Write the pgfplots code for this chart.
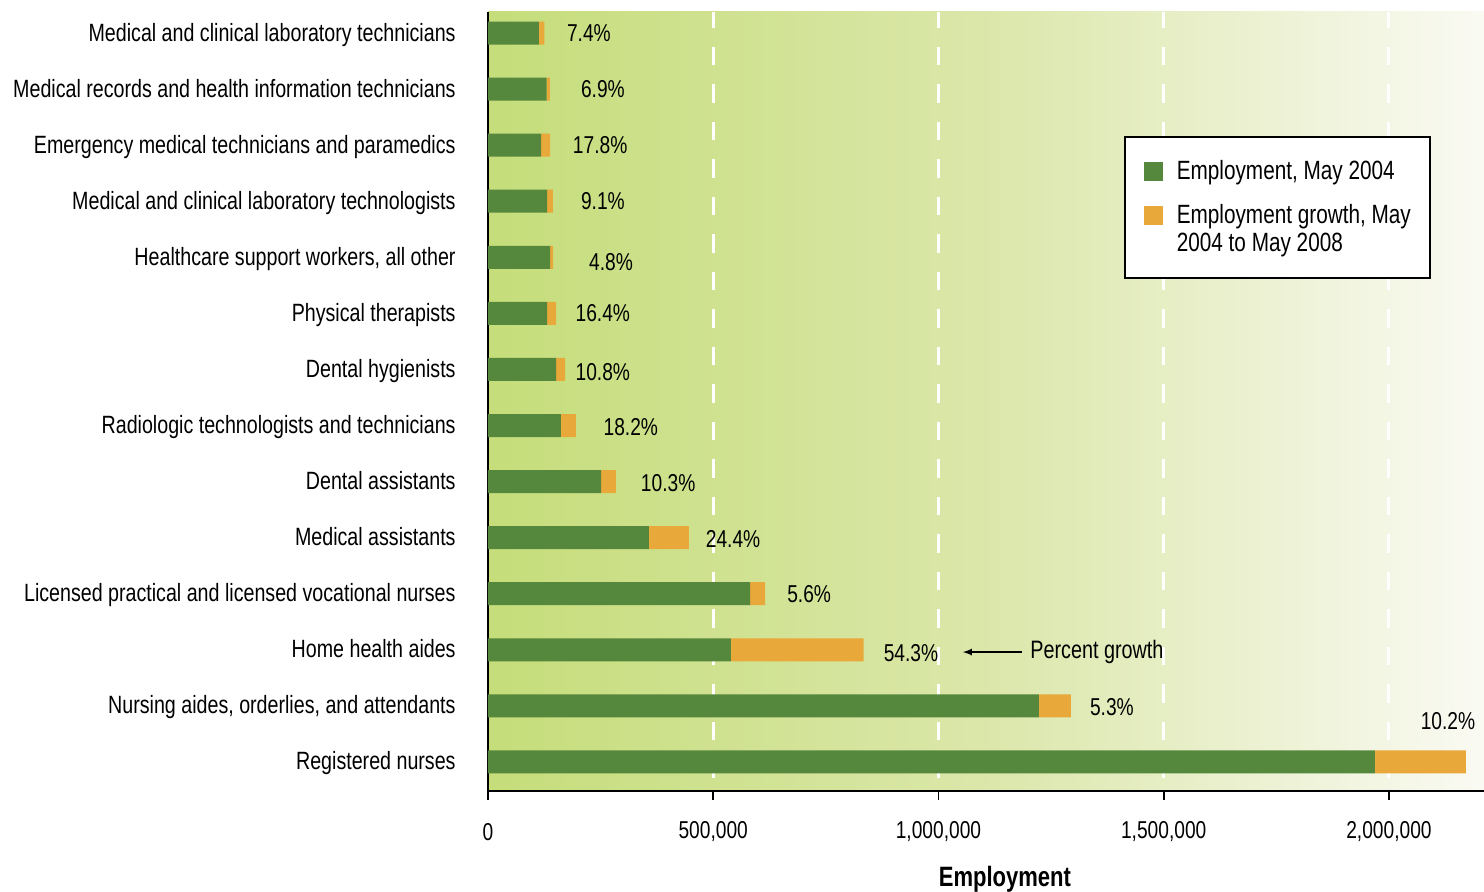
\documentclass[border=0pt]{standalone}
\usepackage{fontspec}
\setmainfont{Liberation Sans}[FakeStretch=0.786]
\usepackage{pgfplots}
\pgfplotsset{compat=1.18}
\definecolor{barg}{RGB}{85,135,61}
\definecolor{baro}{RGB}{233,168,58}
\definecolor{bgl}{RGB}{197,221,122}
\definecolor{bgm}{RGB}{219,231,170}
\definecolor{bgr}{RGB}{250,250,243}
\pgfplotsset{
  legsqA/.style={legend image code/.code={\fill[##1] (0pt,-4.75pt) rectangle (9.5pt,4.75pt);}},
  legsqB/.style={legend image code/.code={\fill[##1] (0pt,1.85pt) rectangle (9.5pt,11.35pt);}},
}

\begin{document}
\begin{tikzpicture}[font=\fontsize{12.5}{14}\selectfont]
\begin{axis}[
  at={(0,0)}, anchor=south west,
  width=498pt, height=389.5pt, scale only axis,
  xbar stacked, bar width=11.5pt,
  xmin=0, xmax=2211000, ymin=-0.518, ymax=13.375,
  ytick={0,1,2,3,4,5,6,7,8,9,10,11,12,13},
  yticklabels={Registered nurses,
    {Nursing aides, orderlies, and attendants},
    Home health aides,
    Licensed practical and licensed vocational nurses,
    Medical assistants,
    Dental assistants,
    Radiologic technologists and technicians,
    Dental hygienists,
    Physical therapists,
    {Healthcare support workers, all other},
    Medical and clinical laboratory technologists,
    Emergency medical technicians and paramedics,
    Medical records and health information technicians,
    Medical and clinical laboratory technicians},
  xtick={0,500000,1000000,1500000,2000000},
  xticklabels={0,{500,000},{1,000,000},{1,500,000},{2,000,000}},
  scaled x ticks=false,
  axis x line*=bottom, axis y line*=left,
  axis line style={line width=1pt, black},
  ytick style={draw=none},
  xtick align=outside,
  major tick length=4.5pt,
  xtick style={line width=0.8pt, black},
  xmajorgrids,
  major grid style={white, line width=1.5pt, dash pattern=on 9.25pt off 9.5pt, dash phase=12.15pt},
  axis background/.style={left color=bgl, right color=bgr, middle color=bgm},
  yticklabel style={anchor=base east, inner sep=0pt, xshift=-16pt, yshift=-4pt},
  xticklabel style={anchor=center, yshift=-16pt, font=\fontsize{12.2}{14}\selectfont},
  xlabel={\bfseries Employment},
  xlabel style={at={(rel axis cs:0.519,0)}, anchor=center, yshift=-44pt, font=\fontsize{14}{16}\selectfont},
  legend cell align=left,
  legend style={at={(rel axis cs:0.6386,0.8408)}, anchor=north west,
    draw=black, line width=0.75pt, fill=white,
    inner xsep=9.5pt, inner ysep=10pt, row sep=6.5pt, column sep=7pt,
    nodes={inner xsep=0pt},
    font=\fontsize{13.2}{14}\selectfont,
    cells={align=left}},
]
\addplot[fill=barg, draw=none, legsqA] coordinates {
(1969000,0) (1223000,1) (539000,2) (582000,3) (357000,4) (251000,5) (162000,6)
(151000,7) (131000,8) (138000,9) (131000,10) (118000,11) (130000,12) (113000,13)};
\addlegendentry{Employment, May 2004}
\addplot[fill=baro, draw=none, legsqB] coordinates {
(202000,0) (71000,1) (295000,2) (33000,3) (89000,4) (33000,5) (33000,6)
(20000,7) (20000,8) (6700,9) (13000,10) (20000,11) (7400,12) (12000,13)};
\addlegendentry{Employment growth, May\\2004 to May 2008}

\node[font=\fontsize{12.2}{14}\selectfont] at (axis cs:224000,13) {7.4\%};
\node[font=\fontsize{12.2}{14}\selectfont] at (axis cs:255000,12) {6.9\%};
\node[font=\fontsize{12.2}{14}\selectfont] at (axis cs:249000,11) {17.8\%};
\node[font=\fontsize{12.2}{14}\selectfont] at (axis cs:255000,10) {9.1\%};
\node[font=\fontsize{12.2}{14}\selectfont] at (axis cs:273000,8.91) {4.8\%};
\node[font=\fontsize{12.2}{14}\selectfont] at (axis cs:255000,8.0) {16.4\%};
\node[font=\fontsize{12.2}{14}\selectfont] at (axis cs:255000,6.95) {10.8\%};
\node[font=\fontsize{12.2}{14}\selectfont] at (axis cs:317000,5.98) {18.2\%};
\node[font=\fontsize{12.2}{14}\selectfont] at (axis cs:400000,4.98) {10.3\%};
\node[font=\fontsize{12.2}{14}\selectfont] at (axis cs:544000,3.98) {24.4\%};
\node[font=\fontsize{12.2}{14}\selectfont] at (axis cs:713000,3.0) {5.6\%};
\node[font=\fontsize{12.2}{14}\selectfont] at (axis cs:939000,1.95) {54.3\%};
\node[font=\fontsize{12.2}{14}\selectfont] at (axis cs:1385000,0.98) {5.3\%};
\node[font=\fontsize{12.2}{14}\selectfont] at (axis cs:2131000,0.73) {10.2\%};
\node[anchor=west, inner sep=0pt, font=\fontsize{12.6}{14}\selectfont] at (axis cs:1203000,1.96) {Percent growth};
\draw[line width=0.6pt, -latex] (axis cs:1185000,1.96) -- (axis cs:1054000,1.96);
\end{axis}
\pgfresetboundingbox
\path[use as bounding box] (-244pt,-50pt) rectangle (498pt,395.5pt);
\end{tikzpicture}
\end{document}
